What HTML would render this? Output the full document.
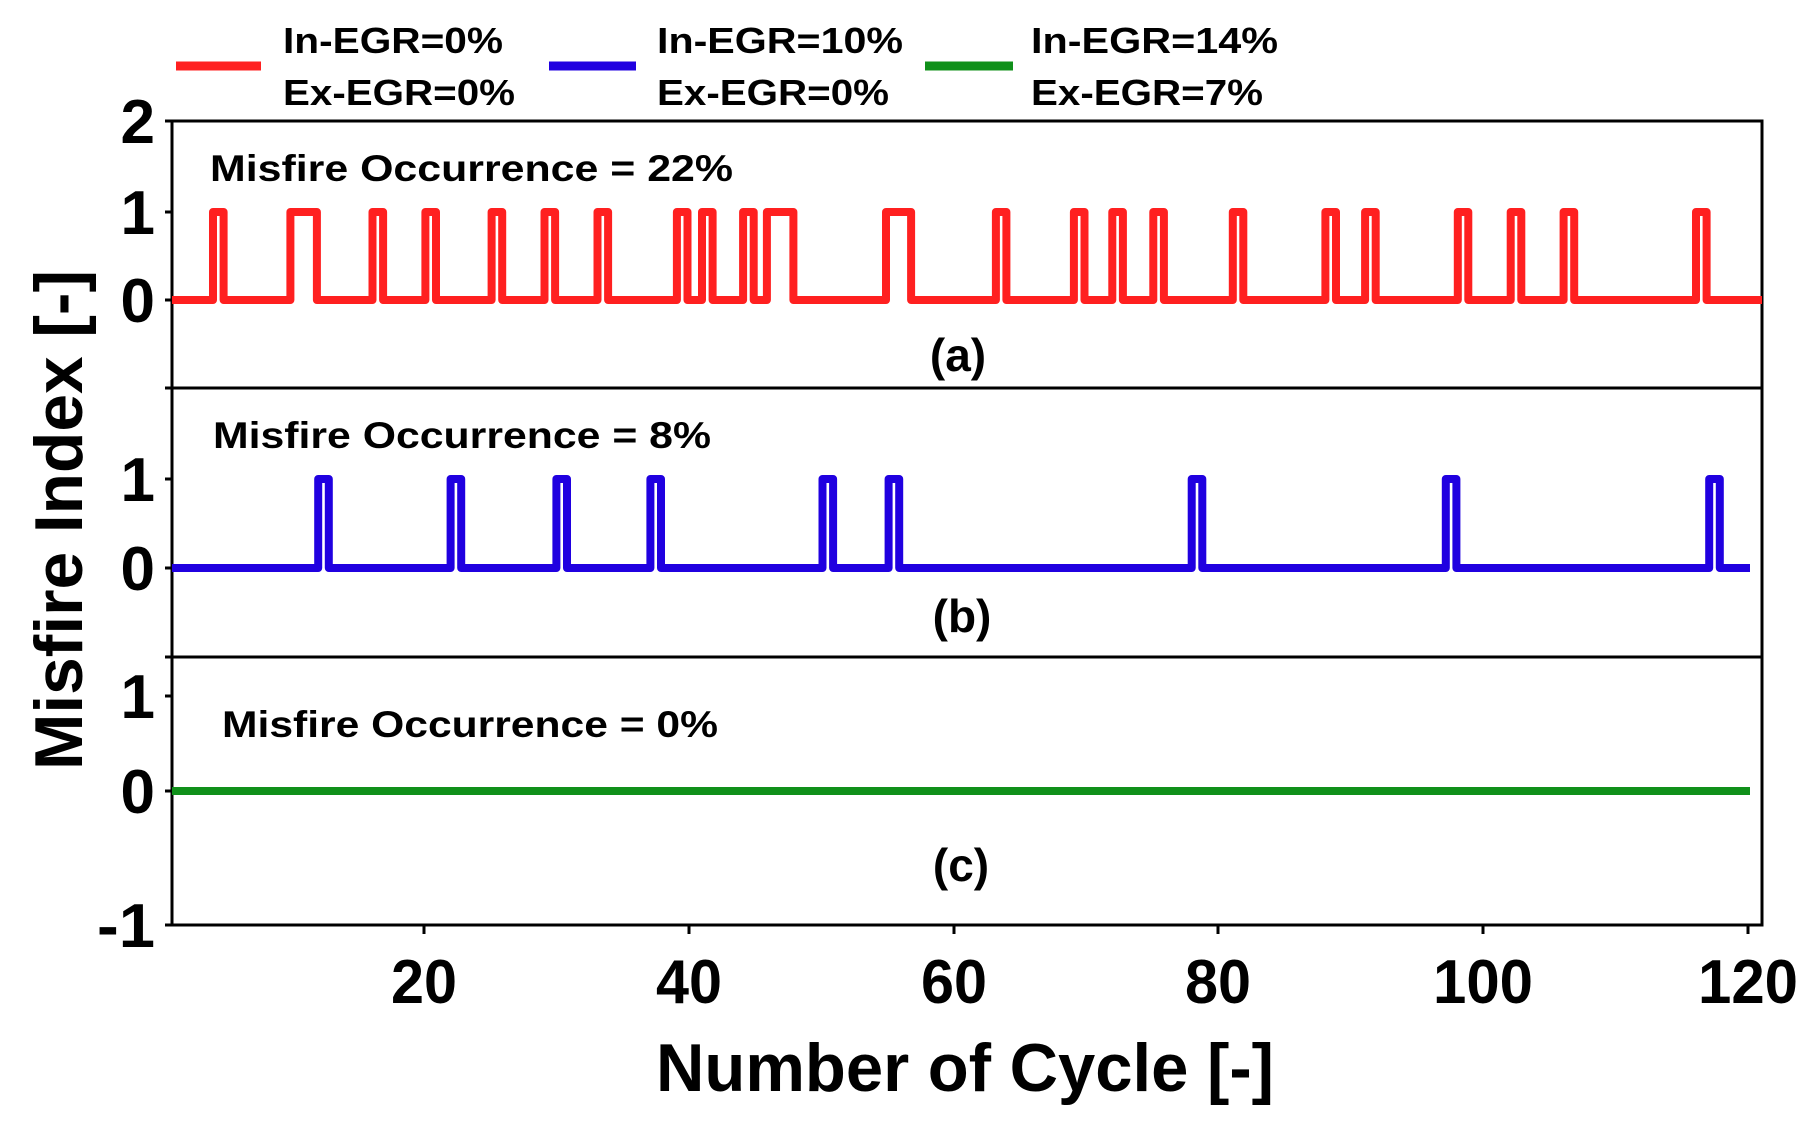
<!DOCTYPE html>
<html><head><meta charset="utf-8"><style>html,body{margin:0;padding:0;background:#fff}svg{display:block}</style></head>
<body>
<svg width="1813" height="1128" viewBox="0 0 1813 1128" xmlns="http://www.w3.org/2000/svg" font-family="Liberation Sans, Arial, sans-serif" font-weight="bold">
<!-- legend -->
<line x1="176" y1="66" x2="261" y2="66" stroke="#ff2020" stroke-width="9"/>
<line x1="549" y1="66" x2="636" y2="66" stroke="#2000e0" stroke-width="9"/>
<line x1="925" y1="66" x2="1013" y2="66" stroke="#10901a" stroke-width="9"/>
<g font-size="36">
<text x="283" y="53" textLength="220" lengthAdjust="spacingAndGlyphs">In-EGR=0%</text>
<text x="283" y="105" textLength="232" lengthAdjust="spacingAndGlyphs">Ex-EGR=0%</text>
<text x="657" y="53" textLength="246" lengthAdjust="spacingAndGlyphs">In-EGR=10%</text>
<text x="657" y="105" textLength="232" lengthAdjust="spacingAndGlyphs">Ex-EGR=0%</text>
<text x="1031" y="53" textLength="247" lengthAdjust="spacingAndGlyphs">In-EGR=14%</text>
<text x="1031" y="105" textLength="232" lengthAdjust="spacingAndGlyphs">Ex-EGR=7%</text>
</g>
<!-- axes frame -->
<rect x="172" y="121" width="1590" height="804" fill="none" stroke="#000" stroke-width="3"/>
<line x1="172" y1="388" x2="1762" y2="388" stroke="#000" stroke-width="3"/>
<line x1="172" y1="657" x2="1762" y2="657" stroke="#000" stroke-width="3"/>
<g stroke="#000" stroke-width="3">
<line x1="165" y1="121" x2="172" y2="121"/><line x1="165" y1="212" x2="172" y2="212"/><line x1="165" y1="300" x2="172" y2="300"/>
<line x1="165" y1="388" x2="172" y2="388"/><line x1="165" y1="479" x2="172" y2="479"/><line x1="165" y1="568" x2="172" y2="568"/>
<line x1="165" y1="657" x2="172" y2="657"/><line x1="165" y1="696" x2="172" y2="696"/><line x1="165" y1="791" x2="172" y2="791"/><line x1="165" y1="925" x2="172" y2="925"/>
<line x1="424" y1="925" x2="424" y2="934"/><line x1="689" y1="925" x2="689" y2="934"/><line x1="954" y1="925" x2="954" y2="934"/>
<line x1="1218" y1="925" x2="1218" y2="934"/><line x1="1483" y1="925" x2="1483" y2="934"/><line x1="1748" y1="925" x2="1748" y2="934"/>
</g>
<g font-size="62" text-anchor="end">
<text x="155" y="143" transform="scale(1,1)">2</text><text x="155" y="234">1</text><text x="155" y="322">0</text>
<text x="155" y="501">1</text><text x="155" y="590">0</text>
<text x="155" y="718">1</text><text x="155" y="813">0</text><text x="155" y="947" textLength="58" lengthAdjust="spacingAndGlyphs">-1</text>
</g>
<g font-size="62" text-anchor="middle">
<text x="424" y="1003" textLength="66" lengthAdjust="spacingAndGlyphs">20</text><text x="689" y="1003" textLength="66" lengthAdjust="spacingAndGlyphs">40</text><text x="954" y="1003" textLength="66" lengthAdjust="spacingAndGlyphs">60</text>
<text x="1218" y="1003" textLength="66" lengthAdjust="spacingAndGlyphs">80</text><text x="1483" y="1003" textLength="100" lengthAdjust="spacingAndGlyphs">100</text><text x="1748" y="1003" textLength="100" lengthAdjust="spacingAndGlyphs">120</text>
</g>
<text x="965" y="1091" font-size="68" text-anchor="middle" textLength="618" lengthAdjust="spacingAndGlyphs">Number of Cycle [-]</text>
<text transform="translate(82,520) rotate(-90)" font-size="68" text-anchor="middle" textLength="500" lengthAdjust="spacingAndGlyphs">Misfire Index [-]</text>
<g font-size="37">
<text x="210" y="181" textLength="523" lengthAdjust="spacingAndGlyphs">Misfire Occurrence = 22%</text>
<text x="213" y="448" textLength="498" lengthAdjust="spacingAndGlyphs">Misfire Occurrence = 8%</text>
<text x="222" y="737" textLength="496" lengthAdjust="spacingAndGlyphs">Misfire Occurrence = 0%</text>
</g>
<g font-size="46" text-anchor="middle">
<text x="958" y="371">(a)</text><text x="962" y="632">(b)</text><text x="961" y="881">(c)</text>
</g>
<path id="red" fill="none" stroke="#ff2020" stroke-width="8" stroke-linejoin="round"/>
<path id="blue" fill="none" stroke="#2000e0" stroke-width="8" stroke-linejoin="round"/>
<line x1="172" y1="791" x2="1750" y2="791" stroke="#10901a" stroke-width="8"/>
<script>
function X(c){return 159.4+13.235*c;}
function build(pulses,y0,y1,end){
 let d="M172 "+y0;
 for(const p of pulses){
  let a,b;
  if(Array.isArray(p)){a=p[0];b=p[1];}else{a=p-0.4;b=p+0.4;}
  d+=" L"+X(a).toFixed(1)+" "+y0+" L"+X(a).toFixed(1)+" "+y1+" L"+X(b).toFixed(1)+" "+y1+" L"+X(b).toFixed(1)+" "+y0;
 }
 d+=" L"+end+" "+y0;return d;
}
const red=[4.45,[9.9,11.9],16.5,20.5,25.5,29.5,33.5,39.5,41.4,44.5,[45.9,47.9],[54.9,56.8],63.6,69.5,72.4,75.5,81.5,88.5,91.5,98.5,102.5,106.5,116.5];
const blue=[12.4,22.4,30.4,37.5,50.5,55.5,78.4,97.6,117.5];
document.getElementById("red").setAttribute("d",build(red,300,212,1762));
document.getElementById("blue").setAttribute("d",build(blue,568,479,1750));
</script>
</svg>
</body></html>
